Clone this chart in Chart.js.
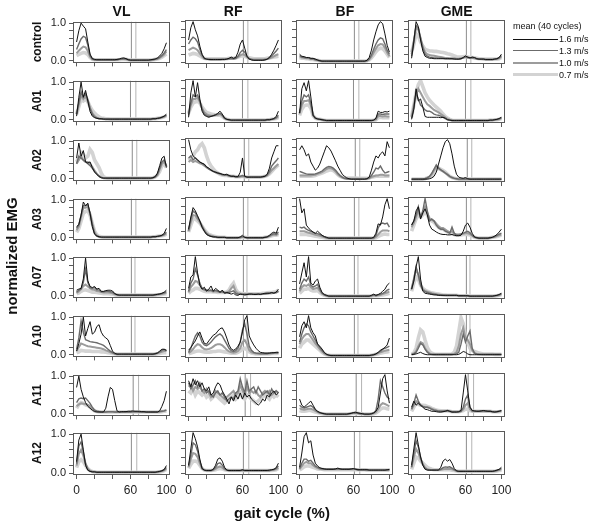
<!DOCTYPE html>
<html>
<head>
<meta charset="utf-8">
<script src="https://cdn.jsdelivr.net/npm/chart.js@4.4.1/dist/chart.umd.min.js"></script>
<style>
  body { margin: 0; background: #fff; font-family: "Liberation Sans", Arial, sans-serif; }
  #page { position: relative; width: 600px; height: 528px; overflow: hidden; }
  canvas { position: absolute; }
  .txt { position: absolute; white-space: nowrap; color: #111; }
  .bold { font-weight: bold; }
  .legline { position: absolute; height: 0; }
</style>
</head>
<body>
<div id="page"></div>
<script>
const muscles = ['VL', 'RF', 'BF', 'GME'];
const subjects = ['control', 'A01', 'A02', 'A03', 'A07', 'A10', 'A11', 'A12'];
const speeds = ['1.6 m/s', '1.3 m/s', '1.0 m/s', '0.7 m/s'];
const speedColors = ['#111111', '#6b6b6b', '#9c9c9c', '#d3d3d3'];
const speedWidths = [1, 1.4, 2, 3.6];

const gaitCycle = [0, 2.5, 5, 7.5, 10, 12.5, 15, 17.5, 20, 22.5, 25, 27.5, 30, 32.5, 35, 37.5, 40, 42.5, 45, 47.5, 50, 52.5, 55, 57.5, 60, 62.5, 65, 67.5, 70, 72.5, 75, 77.5, 80, 82.5, 85, 87.5, 90, 92.5, 95, 97.5, 100];
const xTicks = [0, 20, 40, 60, 80, 100];
const xTickLabels = [0, 60, 100];
const yTicks = [0, 0.2, 0.4, 0.6, 0.8, 1];
const yTickLabels = [0, 1];

// toe-off lines (% gait cycle), one pair per subject row
const toeOff = [[61, 66], [60, 66], [62, 67], [61, 66], [61, 65], [61, 65], [63, 69], [61, 67]];

// normalized EMG in % of max, rows = 1.6, 1.3, 1.0, 0.7 m/s
const controlVL = [
  [50,80,100,92,85,50,18,6,4,3, 3,3,3,3,3,3,3,3,4,5, 7,8,6,3,2,2,2,2,2,2, 2,2,2,3,4,5,8,13,20,32, 48],
  [30,45,58,65,62,42,14,5,3,3, 3,3,3,3,3,3,3,3,3,4, 5,6,5,3,2,2,2,2,2,2, 2,2,2,3,3,4,6,9,14,21, 30],
  [20,27,33,38,36,26,11,4,3,3, 3,3,3,3,3,3,3,3,3,4, 5,5,4,3,2,2,2,2,2,2, 2,2,2,2,3,4,5,8,12,17, 25],
  [14,17,20,22,21,17,9,4,3,3, 3,3,3,3,3,3,3,3,3,3, 4,4,4,3,2,2,2,2,2,2, 2,2,2,2,3,4,5,7,10,14, 18]
];
const controlRF = [
  [55,85,100,80,65,40,20,10,8,7, 7,7,7,7,7,7,7,8,10,13, 10,12,25,45,55,35,15,8,6,5, 5,5,5,5,6,8,12,20,30,42, 55],
  [45,55,62,58,50,32,18,10,8,7, 7,7,7,7,7,7,7,8,9,10, 9,10,15,24,30,25,15,9,7,6, 6,6,6,6,7,8,11,16,22,28, 35],
  [30,33,36,34,30,22,14,9,8,8, 7,7,7,7,7,8,8,8,9,9, 9,10,13,17,20,18,13,9,8,7, 7,7,7,7,7,8,10,12,15,18, 20],
  [18,20,22,21,19,16,12,10,9,9, 9,9,9,9,9,9,9,9,10,10, 10,11,13,15,16,15,13,11,10,9, 9,9,9,9,9,10,11,12,13,14, 15]
];
const controlBF = [
  [20,15,14,12,12,10,10,8,6,4, 3,3,3,3,3,3,3,3,3,3, 3,3,3,3,3,3,3,3,3,3, 5,12,30,55,75,92,100,95,70,42, 25],
  [17,13,12,11,11,9,9,7,5,4, 3,3,3,3,3,3,3,3,3,3, 3,3,3,3,3,3,3,3,3,3, 4,8,18,32,45,55,60,58,45,30, 20],
  [15,12,11,10,10,8,8,6,5,4, 3,3,3,3,3,3,3,3,3,3, 3,3,3,3,3,3,3,3,3,3, 4,7,14,24,34,42,45,44,36,24, 15],
  [12,10,10,9,9,7,7,6,5,4, 3,3,3,3,3,3,3,3,3,3, 3,3,3,3,3,3,3,3,3,3, 4,6,11,18,26,32,35,34,28,20, 12]
];
const controlGME = [
  [10,50,100,88,55,28,15,12,10,10, 9,9,9,9,9,9,9,9,9,8, 8,8,9,12,16,13,11,13,12,9, 8,8,8,7,7,7,7,8,9,12, 20],
  [15,55,90,85,60,35,20,15,13,12, 11,11,10,10,10,9,9,9,9,9, 8,8,9,11,14,12,11,12,11,9, 8,8,8,7,7,7,7,8,9,11, 17],
  [20,50,85,80,60,38,25,20,18,17, 16,15,14,13,12,11,11,10,10,10, 9,9,10,11,13,12,11,11,10,9, 8,8,8,7,7,7,7,8,8,10, 14],
  [25,45,70,65,50,40,32,30,28,28, 27,27,26,25,24,23,21,20,18,16, 14,13,13,14,15,13,12,12,11,10, 9,9,8,8,8,8,8,8,8,9, 12]
];

const a01VL = [
  [10,60,100,60,78,50,22,10,6,4, 3,3,2,2,2,2,2,2,2,2, 2,2,2,2,2,2,2,2,2,2, 2,2,2,2,3,3,4,5,7,10, 15],
  [15,45,75,60,70,55,30,15,8,5, 3,3,2,2,2,2,2,2,2,2, 2,2,2,2,2,2,2,2,2,2, 2,2,2,2,3,3,4,5,7,9, 13],
  [15,40,65,55,62,50,32,18,10,6, 4,3,3,2,2,2,2,2,2,2, 2,2,2,2,2,2,2,2,2,2, 2,2,2,2,3,3,4,5,6,8, 12],
  [15,35,55,50,55,48,35,25,18,12, 8,5,4,3,3,2,2,2,2,2, 2,2,2,2,2,2,2,2,2,2, 2,2,2,2,3,3,4,5,6,8, 11]
];
const a01RF = [
  [10,70,100,60,95,55,25,15,12,10, 12,14,16,20,25,18,8,5,4,3, 3,3,3,3,3,3,3,3,3,3, 3,3,3,3,3,4,4,5,7,12, 25],
  [15,45,65,60,65,50,30,18,14,12, 13,14,16,18,20,15,8,5,4,3, 3,3,3,3,3,3,3,3,3,3, 3,3,3,3,3,4,4,5,6,9, 15],
  [18,40,55,55,58,48,32,22,18,15, 14,14,15,16,18,14,8,5,4,3, 3,3,3,3,3,3,3,3,3,3, 3,3,3,3,3,4,4,5,6,8, 12],
  [20,35,45,48,50,45,35,28,22,20, 18,17,16,15,15,12,8,5,4,3, 3,3,3,3,3,3,3,3,3,3, 3,3,3,3,3,4,4,5,6,7, 10]
];
const a01BF = [
  [20,80,95,75,100,60,15,8,6,5, 4,3,2,2,2,2,2,2,2,2, 2,2,2,2,2,2,2,2,2,2, 2,2,2,3,8,25,22,22,24,23, 25],
  [20,50,65,60,65,45,15,8,6,5, 4,3,2,2,2,2,2,2,2,2, 2,2,2,2,2,2,2,2,2,2, 2,2,2,3,6,18,18,17,18,18, 18],
  [20,40,50,50,52,40,15,8,6,5, 4,3,2,2,2,2,2,2,2,2, 2,2,2,2,2,2,2,2,2,2, 2,2,2,3,5,13,13,12,13,12, 12],
  [15,30,38,40,40,32,14,8,6,5, 4,3,2,2,2,2,2,2,2,2, 2,2,2,2,2,2,2,2,2,2, 2,2,2,3,4,9,10,9,9,9, 9]
];
const a01GME = [
  [5,30,80,50,55,35,12,10,10,10, 10,10,10,9,10,8,4,3,2,2, 2,2,2,2,2,2,2,2,2,2, 2,2,2,2,2,3,3,4,5,7, 10],
  [8,35,70,55,40,35,28,25,25,22, 18,16,15,13,10,7,4,3,2,2, 2,2,2,2,2,2,2,2,2,2, 2,2,2,2,2,3,3,4,5,6, 9],
  [10,40,65,80,70,60,50,42,38,33, 28,25,22,18,14,10,6,4,3,2, 2,2,2,2,2,2,2,2,2,2, 2,2,2,2,2,3,3,4,4,5, 8],
  [12,40,70,90,100,85,70,60,52,46, 40,35,30,25,18,12,8,5,3,2, 2,2,2,2,2,2,2,2,2,2, 2,2,2,2,2,3,3,4,4,5, 7]
];

const a02VL = [
  [55,95,60,75,45,42,45,30,18,12, 6,3,2,2,2,2,2,2,2,2, 2,2,2,2,2,2,2,2,2,2, 2,2,2,2,3,6,15,35,55,60, 30],
  [40,60,55,50,45,40,35,28,20,13, 7,4,2,2,2,2,2,2,2,2, 2,2,2,2,2,2,2,2,2,2, 2,2,2,2,3,5,12,28,45,50, 35],
  [40,50,60,50,45,45,40,32,22,14, 8,4,2,2,2,2,2,2,2,2, 2,2,2,2,2,2,2,2,2,2, 2,2,2,2,3,5,10,25,40,45, 35],
  [45,55,70,65,55,60,78,70,50,40, 30,15,5,3,2,2,2,2,2,2, 2,2,2,2,2,2,2,2,2,2, 2,2,2,2,3,5,10,20,35,40, 30]
];
const a02RF = [
  [100,75,60,55,50,45,42,40,33,30, 25,22,20,18,17,15,14,15,12,10, 10,9,9,20,55,10,8,8,8,8, 8,8,8,9,10,15,30,55,70,85, 85],
  [55,60,50,55,50,45,42,38,33,28, 25,22,20,18,16,14,13,13,11,10, 10,9,9,10,12,10,8,8,8,8, 8,8,8,9,10,13,22,35,42,48, 55],
  [45,50,45,48,45,42,40,36,32,28, 25,22,20,18,16,14,13,13,11,10, 10,9,9,9,10,9,8,8,8,8, 8,8,8,9,10,12,18,25,30,35, 40],
  [50,55,60,70,75,85,90,80,60,45, 35,28,22,18,15,13,12,12,11,10, 10,9,9,9,10,9,8,8,8,8, 8,8,8,9,10,12,16,22,28,33, 38]
];
const a02BF = [
  [75,85,75,60,65,45,35,25,30,40, 55,70,85,80,72,60,48,35,25,15, 10,6,4,3,3,3,3,3,3,3, 4,8,25,45,60,55,65,70,60,95, 80],
  [22,20,18,16,15,15,15,16,18,20, 23,28,32,34,33,30,25,18,12,8, 5,4,3,3,3,3,3,3,3,3, 4,6,12,20,30,28,35,25,18,20, 22],
  [12,12,12,12,12,12,13,14,16,18, 20,24,28,30,30,27,22,15,10,7, 5,4,4,4,4,4,4,4,4,4, 4,5,8,10,12,12,14,14,12,12, 12],
  [10,10,10,10,10,10,11,12,14,16, 18,20,23,25,26,24,20,14,10,8, 6,6,6,6,6,6,5,5,5,5, 5,6,8,9,10,10,10,10,10,10, 10]
];
const a02GME = [
  [3,3,3,3,3,3,3,3,4,6, 10,20,40,60,80,95,100,90,65,35, 15,8,6,5,7,4,3,3,3,3, 3,3,3,3,3,3,3,3,3,3, 3],
  [3,3,3,3,3,3,4,6,10,18, 28,38,30,26,22,18,14,10,7,5, 4,3,3,3,4,3,3,3,3,3, 3,3,3,3,3,3,3,3,3,3, 3],
  [3,3,3,3,3,3,4,6,9,15, 25,33,30,25,22,18,14,10,7,5, 4,3,3,3,3,3,3,3,3,3, 3,3,3,3,3,3,3,3,3,3, 3],
  [3,3,3,3,3,3,4,6,8,12, 20,27,30,27,24,20,15,10,7,5, 4,3,3,3,3,3,3,3,3,3, 3,3,3,3,3,3,3,3,3,3, 3]
];

const a03VL = [
  [30,35,60,95,85,92,65,30,10,5, 3,2,2,2,2,2,2,2,2,2, 2,2,2,2,2,2,2,2,2,2, 2,2,2,2,3,3,4,5,7,12, 25],
  [25,35,60,85,85,88,65,35,12,5, 3,2,2,2,2,2,2,2,2,2, 2,2,2,2,2,2,2,2,2,2, 2,2,2,2,3,3,4,5,6,9, 15],
  [20,30,55,80,80,82,65,38,15,6, 3,2,2,2,2,2,2,2,2,2, 2,2,2,2,2,2,2,2,2,2, 2,2,2,2,3,3,4,5,6,8, 12],
  [15,25,45,65,70,72,60,38,18,8, 4,3,2,2,2,2,2,2,2,2, 2,2,2,2,2,2,2,2,2,2, 2,2,2,2,3,3,4,5,6,7, 10]
];
const a03RF = [
  [25,55,78,70,58,45,30,20,12,9, 7,6,6,5,5,5,5,4,4,4, 4,4,4,6,10,5,4,4,4,4, 4,4,4,4,5,6,10,15,18,15, 30],
  [22,50,70,65,55,45,32,22,14,10, 8,7,6,5,5,5,5,4,4,4, 4,4,4,5,7,5,4,4,4,4, 4,4,4,4,5,6,8,12,14,12, 18],
  [20,42,60,58,50,42,32,22,15,11, 9,7,6,5,5,5,5,4,4,4, 4,4,4,4,6,5,4,4,4,4, 4,4,4,4,5,6,8,10,12,11, 14],
  [18,35,50,50,45,40,32,24,17,12, 10,8,7,6,5,5,5,4,4,4, 4,4,4,4,5,5,4,4,4,4, 4,4,4,4,5,6,7,9,10,10, 12]
];
const a03BF = [
  [100,65,75,35,28,22,18,15,20,15, 10,7,5,3,3,3,3,3,3,3, 3,3,3,3,3,3,3,3,3,3, 3,3,3,5,15,38,35,55,85,100, 75],
  [30,28,30,25,22,20,17,14,14,12, 9,6,4,3,3,3,3,3,3,3, 3,3,3,3,3,3,3,3,3,3, 3,3,3,4,10,28,38,40,38,40, 30],
  [20,20,20,18,16,15,13,11,10,9, 7,5,4,3,3,3,3,3,3,3, 3,3,3,3,3,3,3,3,3,3, 3,3,3,3,6,12,18,22,22,22, 20],
  [12,12,12,12,11,10,9,8,7,6, 5,4,3,3,3,3,3,3,3,3, 3,3,3,3,3,3,3,3,3,3, 3,3,3,3,4,7,10,12,13,12, 12]
];
const a03GME = [
  [35,45,70,80,50,65,75,60,35,25, 22,18,15,13,12,12,11,11,12,10, 9,9,10,20,35,40,30,15,6,4, 3,3,3,3,3,4,5,8,12,18, 25],
  [35,45,60,80,55,70,100,70,45,50, 45,35,28,25,25,20,18,15,30,15, 10,10,12,15,18,20,16,10,5,4, 3,3,3,3,3,4,5,7,10,13, 15],
  [30,40,55,70,55,65,80,65,50,48, 45,38,32,28,28,24,20,17,20,14, 12,12,13,14,15,15,13,9,6,4, 3,3,3,3,3,4,5,6,8,10, 12],
  [20,35,50,60,55,60,68,60,50,45, 42,36,30,26,25,22,18,15,14,12, 10,10,11,12,12,12,11,8,5,4, 3,3,3,3,3,4,5,6,7,9, 10]
];

const a07VL = [
  [15,18,20,45,100,40,25,22,25,18, 20,12,12,14,15,15,13,6,3,2, 2,2,2,2,2,2,2,2,2,2, 2,2,2,2,2,3,4,5,7,10, 15],
  [10,15,18,35,70,35,22,20,22,16, 16,11,11,12,12,11,10,5,3,2, 2,2,2,2,2,2,2,2,2,2, 2,2,2,2,2,3,4,5,6,8, 11],
  [8,12,18,26,30,25,20,17,16,13, 12,10,9,9,9,8,7,4,3,2, 2,2,2,2,2,2,2,2,2,2, 2,2,2,2,2,3,3,4,5,6, 8],
  [5,8,12,15,16,14,12,10,10,9, 8,7,6,6,6,5,5,3,2,2, 2,2,2,2,2,2,2,2,2,2, 2,2,2,2,2,2,3,3,4,5, 6]
];
const a07RF = [
  [22,50,55,100,60,30,20,25,15,20, 28,15,22,18,12,18,10,12,10,8, 10,6,5,8,7,6,7,8,8,7, 7,8,7,9,10,10,10,12,10,13, 20],
  [15,35,45,70,55,35,22,20,18,17, 18,15,17,15,13,14,12,11,12,14, 16,10,8,8,8,7,7,8,8,8, 8,8,8,8,9,10,10,11,11,12, 15],
  [12,25,32,40,38,30,22,18,17,16, 16,14,15,14,13,13,12,12,15,22, 28,14,10,9,8,8,8,8,8,8, 8,8,8,8,9,9,10,10,11,12, 14],
  [10,15,18,22,22,20,17,15,14,14, 14,13,13,12,12,12,12,13,18,28, 35,20,12,10,9,9,9,9,9,9, 9,9,9,10,10,11,12,12,13,14, 18]
];
const a07BF = [
  [33,60,85,50,100,35,30,40,45,25, 12,7,5,3,3,3,3,3,3,3, 3,3,3,3,3,3,3,3,3,3, 3,3,5,8,5,7,10,15,20,30, 35],
  [20,35,45,40,50,30,25,28,32,20, 10,6,4,3,3,3,3,3,3,3, 3,3,3,3,3,3,3,3,3,3, 3,3,4,6,4,6,8,10,13,18, 20],
  [15,25,30,28,32,25,20,22,24,16, 9,6,4,3,3,3,3,3,3,3, 3,3,3,3,3,3,3,3,3,3, 3,3,4,5,4,5,6,8,10,12, 14],
  [10,15,20,20,22,18,16,16,17,12, 8,5,4,3,3,3,3,3,3,3, 3,3,3,3,3,3,3,3,3,3, 3,3,3,4,4,4,5,6,7,8, 10]
];
const a07GME = [
  [20,40,75,100,45,15,10,9,8,7, 6,6,5,5,5,5,5,5,5,5, 5,4,4,4,4,4,3,3,3,3, 3,3,3,3,3,3,3,4,5,7, 10],
  [20,45,75,55,30,18,14,12,10,9, 8,7,6,6,5,5,5,5,5,5, 5,4,4,4,4,4,3,3,3,3, 3,3,3,3,3,3,3,4,5,6, 9],
  [20,45,70,55,32,20,16,14,12,10, 9,8,7,6,6,5,5,5,5,5, 5,4,4,4,4,4,3,3,3,3, 3,3,3,3,3,3,3,4,4,5, 8],
  [15,35,50,45,30,22,18,15,13,11, 10,9,8,7,6,6,5,5,5,5, 5,4,4,4,4,4,3,3,3,3, 3,3,3,3,3,3,3,3,4,5, 7]
];

const a10VL = [
  [10,30,55,100,50,70,88,55,60,75, 80,60,50,45,40,25,10,4,2,2, 2,2,2,2,2,2,2,2,2,2, 2,2,2,2,2,3,5,10,15,15, 12],
  [15,45,90,60,40,38,35,34,33,32, 30,28,25,20,15,10,6,3,2,2, 2,2,2,2,2,2,2,2,2,2, 2,2,2,2,2,3,5,8,12,14, 12],
  [10,20,30,28,25,23,22,21,20,19, 18,17,15,12,10,7,5,3,2,2, 2,2,2,2,2,2,2,2,2,2, 2,2,2,2,2,3,4,6,8,10, 10],
  [5,8,12,11,10,10,10,9,9,9, 9,8,8,7,6,5,4,3,2,2, 2,2,2,2,2,2,2,2,2,2, 2,2,2,2,2,2,3,4,5,6, 6]
];
const a10RF = [
  [15,22,30,38,50,60,45,32,30,38, 45,52,55,62,68,70,60,45,28,18, 15,18,25,35,60,90,100,50,38,28, 20,14,10,9,8,8,8,9,9,10, 10],
  [10,20,35,50,58,50,35,28,26,30, 35,42,48,52,55,50,40,30,20,14, 12,14,20,35,65,80,55,25,15,10, 8,7,7,7,7,7,8,8,9,9, 9],
  [8,12,18,25,30,28,22,18,17,18, 20,24,28,30,30,27,22,16,12,10, 9,10,13,20,35,40,30,15,10,8, 7,7,6,6,6,6,7,7,8,8, 8],
  [6,8,10,12,13,13,12,11,10,10, 11,12,12,13,13,12,11,10,9,8, 8,8,10,13,18,20,16,11,8,7, 6,6,6,6,6,6,6,7,7,7, 8]
];
const a10BF = [
  [48,75,85,70,100,70,58,50,30,25, 18,10,5,3,2,2,2,2,2,2, 2,2,2,2,2,2,2,2,2,2, 2,2,3,4,6,10,15,18,22,28, 45],
  [35,55,70,80,75,60,50,40,30,22, 15,8,5,3,2,2,2,2,2,2, 2,2,2,2,2,2,2,2,2,2, 2,2,3,4,6,9,13,17,20,22, 25],
  [30,42,50,55,55,48,40,32,25,18, 12,7,4,3,2,2,2,2,2,2, 2,2,2,2,2,2,2,2,2,2, 2,2,3,4,5,8,10,12,14,15, 16],
  [20,30,35,40,40,35,30,25,20,15, 10,6,4,3,2,2,2,2,2,2, 2,2,2,2,2,2,2,2,2,2, 2,2,3,4,5,6,8,9,10,11, 12]
];
const a10GME = [
  [4,5,6,8,10,7,5,4,4,4, 4,4,4,4,4,4,4,4,4,4, 4,5,8,12,10,6,4,4,4,4, 4,4,4,4,4,4,4,4,4,4, 4],
  [5,6,10,20,32,28,18,10,6,5, 5,5,5,5,5,5,5,5,5,5, 6,10,30,55,35,50,62,20,8,6, 5,5,5,5,5,5,5,5,5,5, 5],
  [5,7,12,25,35,32,20,12,7,5, 5,5,5,5,5,5,5,5,5,6, 10,25,55,70,45,40,30,15,8,6, 5,5,5,5,5,5,5,5,5,5, 5],
  [5,8,20,45,65,60,40,22,12,8, 6,5,5,5,5,5,5,5,6,10, 25,60,95,80,50,35,20,15,12,10, 8,7,6,6,6,6,6,5,5,5, 5]
];

const a11VL = [
  [70,100,65,45,30,20,15,10,6,5, 5,5,5,15,45,70,65,35,8,5, 6,6,6,7,7,8,7,7,7,6, 6,5,5,5,5,5,5,8,20,35, 60],
  [30,40,42,40,42,35,28,18,10,7, 6,5,5,5,6,6,6,5,5,5, 5,5,5,5,5,6,6,6,5,5, 5,5,5,5,5,5,5,6,7,8, 10],
  [20,25,28,27,26,24,20,14,9,7, 6,5,5,5,5,5,5,5,5,5, 5,5,5,5,5,5,5,5,5,5, 5,5,5,5,5,5,5,6,7,8, 10],
  [15,25,30,28,24,22,18,12,8,6, 5,5,5,5,5,5,5,5,5,5, 5,5,5,5,5,5,5,5,5,5, 5,5,5,5,5,5,5,5,6,7, 8]
];
const a11RF = [
  [85,70,90,75,85,70,80,65,60,70, 50,55,70,80,75,60,50,40,28,45, 35,50,40,55,40,55,45,50,40,35, 30,25,30,40,35,50,45,55,60,50, 55],
  [80,65,75,85,70,80,60,65,55,60, 50,45,55,60,50,55,45,35,40,45, 40,55,60,90,70,55,85,60,65,70, 55,70,60,50,55,60,50,65,55,60, 55],
  [70,75,60,70,65,70,60,55,65,55, 45,50,60,55,50,45,40,45,50,55, 60,50,55,75,60,50,70,55,60,55, 60,50,45,55,60,55,60,50,55,60, 55],
  [60,55,65,50,60,55,50,55,45,50, 40,45,50,45,40,35,30,35,40,45, 50,40,45,55,45,40,50,45,40,35, 30,35,40,45,50,45,40,50,45,50, 45]
];
const a11BF = [
  [40,25,20,25,30,35,25,15,10,7, 5,4,3,3,3,3,3,3,3,3, 3,3,4,5,7,8,6,5,4,3, 3,3,4,6,10,20,55,90,100,60, 30],
  [25,20,18,20,22,24,20,14,9,6, 5,4,3,3,3,3,3,3,3,3, 3,3,4,5,6,6,5,4,4,3, 3,3,4,6,12,40,85,70,55,45, 40],
  [18,15,14,15,16,16,14,11,8,6, 5,4,3,3,3,3,3,3,3,3, 3,3,4,5,6,6,5,4,4,3, 3,3,4,5,8,15,25,30,28,25, 22],
  [12,10,10,11,12,12,10,8,7,5, 4,3,3,3,3,3,3,3,3,3, 3,3,3,4,5,5,5,4,4,3, 3,3,3,4,6,10,15,18,18,16, 15]
];
const a11GME = [
  [20,35,25,30,25,20,15,14,12,10, 10,9,8,8,9,10,12,10,8,8, 8,9,12,55,100,60,20,12,11,10, 10,11,12,11,10,10,9,8,9,10, 12],
  [15,30,50,35,25,22,20,20,18,15, 13,12,10,10,10,11,12,10,9,9, 9,9,10,20,40,50,20,11,10,10, 10,10,11,10,10,10,9,9,9,10, 11],
  [15,25,35,30,25,22,20,20,19,16, 14,12,11,10,10,11,11,10,9,9, 9,9,10,15,25,30,15,10,10,10, 10,10,10,10,10,10,9,9,9,10, 10],
  [10,20,30,27,25,25,24,22,20,17, 15,13,12,11,11,11,11,10,9,9, 9,9,10,12,15,15,12,10,10,10, 10,10,10,10,10,10,9,9,9,9, 10]
];

const a12VL = [
  [30,85,100,60,20,8,5,4,4,3, 3,3,3,3,3,3,3,3,3,3, 3,3,3,3,3,3,3,3,3,3, 3,3,3,3,3,3,4,5,7,10, 20],
  [25,70,80,55,25,10,6,4,4,3, 3,3,3,3,3,3,3,3,3,3, 3,3,3,3,3,3,3,3,3,3, 3,3,3,3,3,3,4,5,6,9, 15],
  [20,50,60,45,25,12,7,5,4,3, 3,3,3,3,3,3,3,3,3,3, 3,3,3,3,3,3,3,3,3,3, 3,3,3,3,3,3,4,5,6,8, 12],
  [15,30,35,30,20,12,7,5,4,3, 3,3,3,3,3,3,3,3,3,3, 3,3,3,3,3,3,3,3,3,3, 3,3,3,3,3,3,3,4,5,7, 10]
];
const a12RF = [
  [20,60,100,85,65,35,12,8,7,7, 7,10,20,35,38,30,15,8,7,7, 7,7,7,7,9,7,7,7,7,7, 7,7,7,7,7,7,8,9,10,14, 25],
  [18,45,75,70,55,30,12,8,7,7, 7,9,15,24,26,20,12,8,7,7, 7,7,7,7,8,7,7,7,7,7, 7,7,7,7,7,7,7,8,9,12, 18],
  [15,35,50,48,40,25,12,8,7,7, 7,8,11,15,17,14,10,8,7,7, 7,7,7,7,7,7,7,7,7,7, 7,7,7,7,7,7,7,8,9,10, 14],
  [12,22,30,30,28,20,12,8,7,7, 7,8,9,11,12,11,9,8,7,7, 7,7,7,7,7,7,7,7,7,7, 7,7,7,7,7,7,7,7,8,9, 12]
];
const a12BF = [
  [15,50,90,100,75,80,45,25,18,14, 12,11,10,10,10,10,11,13,11,10, 10,10,10,11,12,10,9,9,9,9, 9,8,8,8,8,8,8,8,8,9, 10],
  [12,25,35,35,30,32,25,18,15,12, 11,10,10,10,10,10,10,11,10,10, 10,10,10,10,11,10,9,9,9,9, 9,8,8,8,8,8,8,8,8,8, 9],
  [10,18,25,28,25,25,20,16,13,11, 10,10,10,10,10,10,10,10,10,10, 10,10,10,10,10,10,9,9,9,9, 9,8,8,8,8,8,8,8,8,8, 8],
  [8,12,16,18,18,17,15,13,11,10, 10,9,9,9,9,9,9,9,9,9, 9,9,9,9,9,9,9,9,9,9, 8,8,8,8,8,8,8,8,8,8, 8]
];
const a12GME = [
  [20,60,100,70,40,20,10,8,8,8, 8,8,8,15,30,35,30,34,25,12, 6,5,5,5,5,5,5,5,5,5, 5,5,5,5,5,5,5,6,8,10, 15],
  [15,50,80,65,40,22,12,9,8,8, 8,8,8,10,14,16,15,16,13,9, 6,5,5,5,5,5,5,5,5,5, 5,5,5,5,5,5,5,6,7,9, 12],
  [15,40,60,50,35,22,14,10,9,8, 8,8,8,9,10,11,11,11,10,8, 6,5,5,5,5,5,5,5,5,5, 5,5,5,5,5,5,5,6,7,8, 10],
  [10,25,40,38,30,25,20,15,12,10, 9,9,9,9,9,9,9,9,8,7, 6,5,5,5,5,5,5,5,5,5, 5,5,5,5,5,5,5,5,6,7, 8]
];

const panelData = [
  [controlVL, controlRF, controlBF, controlGME],
  [a01VL, a01RF, a01BF, a01GME],
  [a02VL, a02RF, a02BF, a02GME],
  [a03VL, a03RF, a03BF, a03GME],
  [a07VL, a07RF, a07BF, a07GME],
  [a10VL, a10RF, a10BF, a10GME],
  [a11VL, a11RF, a11BF, a11GME],
  [a12VL, a12RF, a12BF, a12GME]
];

const page = document.getElementById('page');

// layout of the grid of panels (plot boxes)
const boxLeft0 = 73, boxPitchX = 111.7, boxW = 97;
const boxTop0 = 20.4, boxPitchY = 58.7, boxH = 44;
const X_MIN = -4, X_MAX = 104, Y_MIN = -0.04, Y_MAX = 1.04;

function addText(text, x, y, size, bold, rotate, extra) {
  const d = document.createElement('div');
  d.className = 'txt' + (bold ? ' bold' : '');
  d.textContent = text;
  d.style.left = x + 'px';
  d.style.top = y + 'px';
  d.style.fontSize = size + 'px';
  d.style.transform = 'translate(-50%,-50%)' + (rotate ? ' rotate(-90deg)' : '');
  if (extra) Object.assign(d.style, extra);
  page.appendChild(d);
  return d;
}

const boxPlugin = {
  id: 'panelBox',
  afterDraw(chart) {
    const a = chart.chartArea, ctx = chart.ctx;
    ctx.save();
    ctx.strokeStyle = '#5a5a5a';
    ctx.lineWidth = 1;
    ctx.strokeRect(Math.round(a.left) + 0.5, Math.round(a.top) + 0.5,
      Math.round(a.right - a.left) - 1, Math.round(a.bottom - a.top) - 1);
    ctx.restore();
  }
};

subjects.forEach((subj, r) => {
  muscles.forEach((mus, c) => {
    const series = panelData[r][c];
    const L = c === 0 ? 40 : 8;
    const B = r === subjects.length - 1 ? 24 : 8;
    const T = 8, R = 12;
    const bl = Math.round(boxLeft0 + boxPitchX * c);
    const bt = Math.round(boxTop0 + boxPitchY * r);

    const cv = document.createElement('canvas');
    cv.width = L + boxW + R;
    cv.height = T + boxH + B;
    cv.style.left = (bl - L) + 'px';
    cv.style.top = (bt - T) + 'px';
    page.appendChild(cv);

    const datasets = series.map((vals, k) => {
      if (vals.length !== gaitCycle.length) console.error('length', subj, mus, k, vals.length);
      return {
        label: speeds[k],
        data: vals.map((v, i) => ({ x: gaitCycle[i], y: v / 100 })),
        borderColor: speedColors[k],
        borderWidth: speedWidths[k],
        pointRadius: 0,
        tension: 0,
        fill: false
      };
    });
    toeOff[r].forEach((t, k) => {
      datasets.push({
        label: 'toe-off',
        data: [{ x: t, y: Y_MIN }, { x: t, y: Y_MAX }],
        borderColor: k === 0 ? '#8c8c8c' : '#b4b4b4',
        borderWidth: 1,
        pointRadius: 0,
        fill: false
      });
    });

    new Chart(cv, {
      type: 'line',
      data: { datasets },
      options: {
        responsive: false,
        animation: false,
        events: [],
        layout: { padding: { top: T, right: R, left: 0, bottom: 0 } },
        plugins: { legend: { display: false }, tooltip: { enabled: false } },
        scales: {
          x: {
            type: 'linear', min: X_MIN, max: X_MAX,
            afterBuildTicks: s => { s.ticks = xTicks.map(v => ({ value: v })); },
            afterFit: s => { s.height = B; },
            border: { display: false },
            grid: { drawOnChartArea: false, drawTicks: true, tickLength: 4, color: '#5a5a5a' },
            ticks: {
              display: r === subjects.length - 1,
              autoSkip: false, maxRotation: 0, padding: 4,
              color: '#222', font: { family: 'Liberation Sans', size: 12 },
              callback: v => xTickLabels.includes(v) ? String(v) : ''
            }
          },
          y: {
            type: 'linear', min: Y_MIN, max: Y_MAX,
            afterBuildTicks: s => { s.ticks = yTicks.map(v => ({ value: v })); },
            afterFit: s => { s.width = L; },
            border: { display: false },
            grid: { drawOnChartArea: false, drawTicks: true, tickLength: 4, color: '#5a5a5a' },
            ticks: {
              display: c === 0,
              autoSkip: false, padding: 3,
              color: '#222', font: { family: 'Liberation Sans', size: 11 },
              callback: v => yTickLabels.includes(v) ? v.toFixed(1) : ''
            }
          }
        }
      },
      plugins: [boxPlugin]
    });
  });
});

// column headers, row labels, axis titles
muscles.forEach((m, c) => addText(m, boxLeft0 + boxPitchX * c + boxW / 2, 11, 14, true));
subjects.forEach((s, r) => addText(s, 37, boxTop0 + boxPitchY * r + boxH / 2, 12, true, true));
addText('normalized EMG', 11, 256, 15, true, true);
addText('gait cycle (%)', 282, 512, 15, true);

// legend
addText('mean (40 cycles)', 513, 26, 9, false, false, { transform: 'translate(0,-50%)' });
speeds.forEach((s, k) => {
  const y = 39.3 + 11.8 * k;
  const ln = document.createElement('div');
  ln.className = 'legline';
  ln.style.left = '513px';
  ln.style.width = '45px';
  ln.style.top = (y - speedWidths[k] / 2) + 'px';
  ln.style.borderTop = speedWidths[k] + 'px solid ' + speedColors[k];
  page.appendChild(ln);
  addText(s, 559, y, 9, false, false, { transform: 'translate(0,-50%)' });
});
</script>
</body>
</html>
